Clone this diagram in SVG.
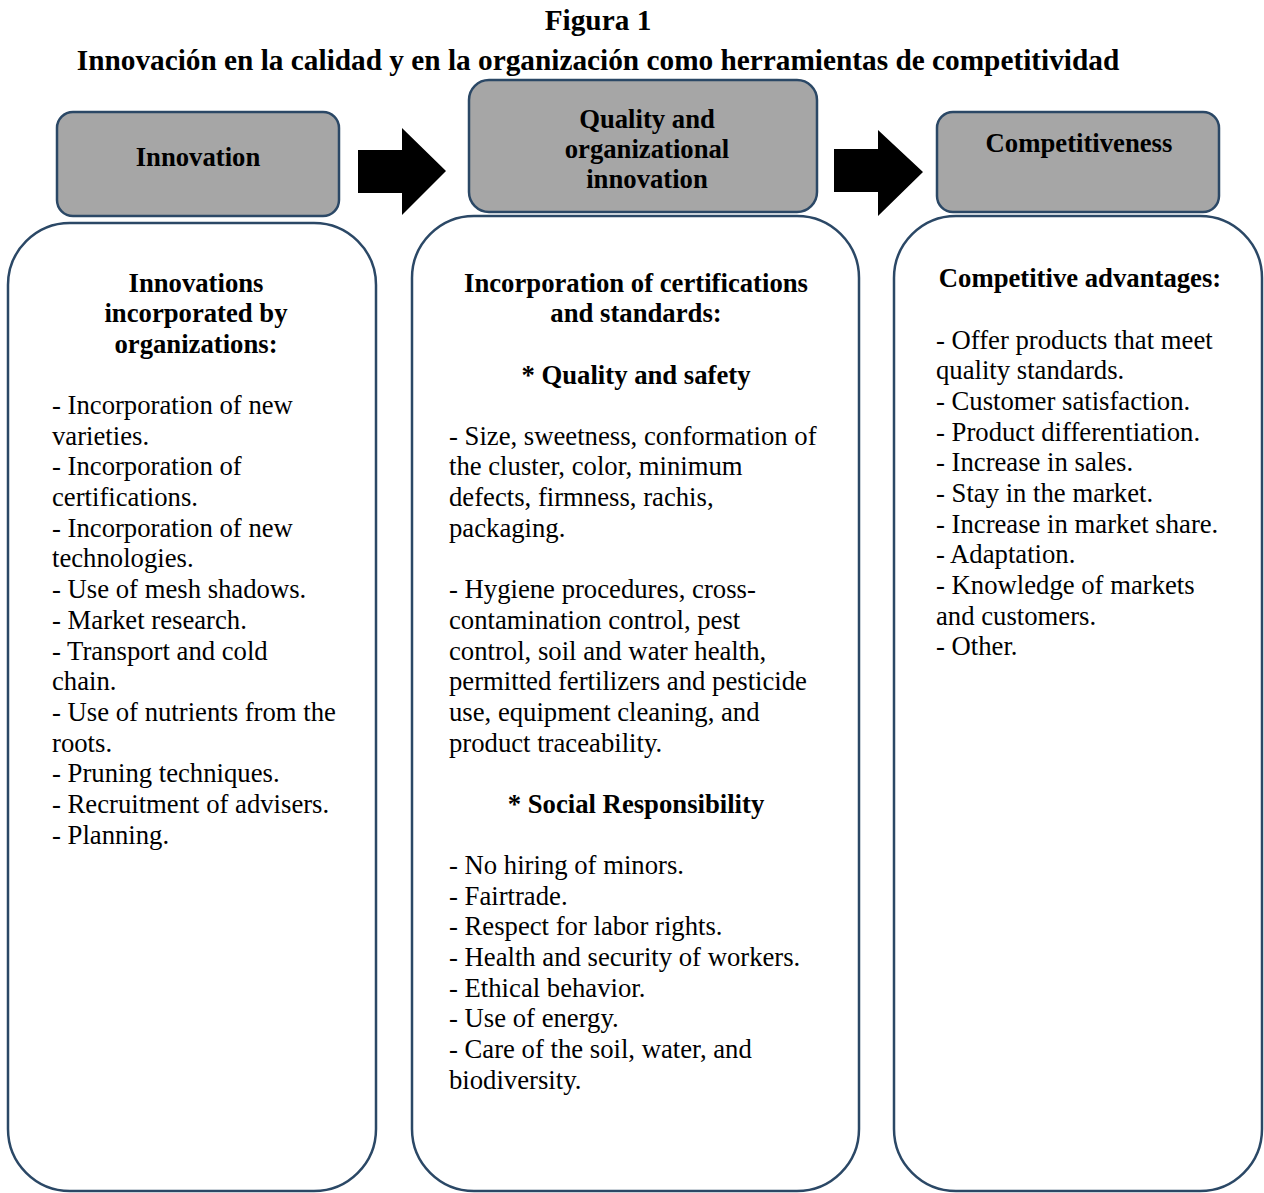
<svg xmlns="http://www.w3.org/2000/svg" width="1264" height="1193" viewBox="0 0 1264 1193">
<style>
text{font-family:"Liberation Serif","Times New Roman",serif;font-size:26.7px;fill:#000}
.b{font-weight:bold}
.c{text-anchor:middle}
.t{font-size:29.3px}
.hdr{fill:#a6a6a6;stroke:#2b4866;stroke-width:2.5}
.box{fill:#fff;stroke:#2b4866;stroke-width:2.5}
.arr{fill:#000}
</style>
<rect width="1264" height="1193" fill="#fff"/>
<g id="title">
<text class="b c t" x="598" y="30">Figura 1</text>
<text class="b c t" x="598" y="70">Innovación en la calidad y en la organización como herramientas de competitividad</text>
</g>
<g id="connectors">
<polygon class="arr" points="358,150 402,150 402,128 446,171 402,215 402,193 358,193"/>
<polygon class="arr" points="834,149 878,149 878,130 923,172 878,216 878,192 834,192"/>
</g>
<g id="hdr-innovation">
<rect class="hdr" x="57" y="112" width="282" height="104" rx="16"/>
<text class="b c" x="198" y="166">Innovation</text>
</g>
<g id="hdr-quality">
<rect class="hdr" x="469" y="80" width="348" height="132" rx="20"/>
<text class="b c" x="647" y="128">Quality and</text>
<text class="b c" x="647" y="158">organizational</text>
<text class="b c" x="647" y="188">innovation</text>
</g>
<g id="hdr-competitiveness">
<rect class="hdr" x="937" y="112" width="282" height="100" rx="16"/>
<text class="b c" x="1079" y="152">Competitiveness</text>
</g>
<g id="box-innovations">
<rect class="box" x="8" y="223" width="368" height="968" rx="62"/>
<text class="b c" x="196" y="292">Innovations</text>
<text class="b c" x="196" y="322">incorporated by</text>
<text class="b c" x="196" y="353">organizations:</text>
<text x="52" y="414">- Incorporation of new</text>
<text x="52" y="445">varieties.</text>
<text x="52" y="475">- Incorporation of</text>
<text x="52" y="506">certifications.</text>
<text x="52" y="537">- Incorporation of new</text>
<text x="52" y="567">technologies.</text>
<text x="52" y="598">- Use of mesh shadows.</text>
<text x="52" y="629">- Market research.</text>
<text x="52" y="660">- Transport and cold</text>
<text x="52" y="690">chain.</text>
<text x="52" y="721">- Use of nutrients from the</text>
<text x="52" y="752">roots.</text>
<text x="52" y="782">- Pruning techniques.</text>
<text x="52" y="813">- Recruitment of advisers.</text>
<text x="52" y="844">- Planning.</text>
</g>
<g id="box-certifications">
<rect class="box" x="412" y="216" width="447" height="975" rx="62"/>
<text class="b c" x="636" y="292">Incorporation of certifications</text>
<text class="b c" x="636" y="322">and standards:</text>
<text class="b c" x="636" y="384">* Quality and safety</text>
<text x="449" y="445">- Size, sweetness, conformation of</text>
<text x="449" y="475">the cluster, color, minimum</text>
<text x="449" y="506">defects, firmness, rachis,</text>
<text x="449" y="537">packaging.</text>
<text x="449" y="598">- Hygiene procedures, cross-</text>
<text x="449" y="629">contamination control, pest</text>
<text x="449" y="660">control, soil and water health,</text>
<text x="449" y="690">permitted fertilizers and pesticide</text>
<text x="449" y="721">use, equipment cleaning, and</text>
<text x="449" y="752">product traceability.</text>
<text class="b c" x="636" y="813">* Social Responsibility</text>
<text x="449" y="874">- No hiring of minors.</text>
<text x="449" y="905">- Fairtrade.</text>
<text x="449" y="935">- Respect for labor rights.</text>
<text x="449" y="966">- Health and security of workers.</text>
<text x="449" y="997">- Ethical behavior.</text>
<text x="449" y="1027">- Use of energy.</text>
<text x="449" y="1058">- Care of the soil, water, and</text>
<text x="449" y="1089">biodiversity.</text>
</g>
<g id="box-advantages">
<rect class="box" x="894" y="216" width="368" height="975" rx="62"/>
<text class="b c" x="1080" y="287">Competitive advantages:</text>
<text x="936" y="349">- Offer products that meet</text>
<text x="936" y="379">quality standards.</text>
<text x="936" y="410">- Customer satisfaction.</text>
<text x="936" y="441">- Product differentiation.</text>
<text x="936" y="471">- Increase in sales.</text>
<text x="936" y="502">- Stay in the market.</text>
<text x="936" y="533">- Increase in market share.</text>
<text x="936" y="563">- Adaptation.</text>
<text x="936" y="594">- Knowledge of markets</text>
<text x="936" y="625">and customers.</text>
<text x="936" y="655">- Other.</text>
</g>
</svg>
